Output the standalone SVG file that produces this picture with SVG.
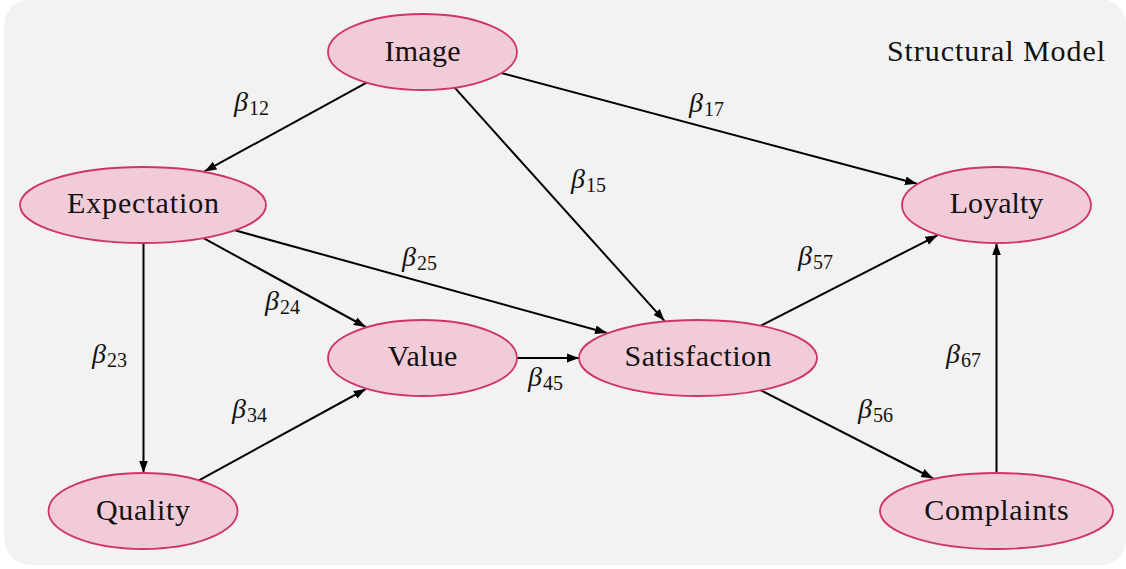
<svg xmlns="http://www.w3.org/2000/svg" width="1126" height="569" viewBox="0 0 1126 569">
<defs>
<marker id="arr" markerUnits="userSpaceOnUse" markerWidth="13" markerHeight="10" refX="12" refY="5" orient="auto" viewBox="0 0 13 10">
<path d="M0,0.6 L12,5 L0,9.4 z" fill="#000"/>
</marker>
</defs>
<style>
.bg{fill:#f2f2f2;}
.node ellipse{fill:#f2cbd8;stroke:#cf3566;stroke-width:1.8;}
.node text,.title{font-family:"Liberation Serif","Times New Roman",serif;font-size:30px;fill:#111;}
.node text{text-anchor:middle;}
.edges line{stroke:#000;stroke-width:2;marker-end:url(#arr);}
.lbl{font-family:"Liberation Serif","Times New Roman",serif;font-style:italic;font-size:28px;fill:#111;}
.lbl tspan{font-style:normal;font-size:20px;}
</style>
<rect class="bg" x="4.3" y="-1" width="1122" height="566" rx="26" ry="26"/>
<text class="title" x="887" y="60.5" textLength="218" lengthAdjust="spacing">Structural Model</text>
<g class="edges" id="connectors">
<line x1="366.6" y1="82.6" x2="204.5" y2="171.4"/>
<line x1="454.7" y1="87.7" x2="664.5" y2="320.8"/>
<line x1="501.3" y1="73.0" x2="917" y2="183.8"/>
<line x1="203.5" y1="238.1" x2="365.8" y2="327"/>
<line x1="234.8" y1="230.3" x2="607" y2="333"/>
<line x1="143.5" y1="243" x2="143.5" y2="472.8"/>
<line x1="198.9" y1="480.4" x2="365.8" y2="389"/>
<line x1="517" y1="358" x2="579" y2="358"/>
<line x1="760.9" y1="325.7" x2="937.5" y2="235.3"/>
<line x1="760.9" y1="390.3" x2="933.2" y2="478.5"/>
<line x1="996.5" y1="473" x2="996.5" y2="243.2"/>
</g>
<g id="labels">
<text class="lbl" x="234" y="111">β<tspan dx="1" dy="4">12</tspan></text>
<text class="lbl" x="689" y="112">β<tspan dx="1" dy="4">17</tspan></text>
<text class="lbl" x="571" y="188">β<tspan dx="1" dy="4">15</tspan></text>
<text class="lbl" x="402" y="266">β<tspan dx="1" dy="4">25</tspan></text>
<text class="lbl" x="798" y="265">β<tspan dx="1" dy="4">57</tspan></text>
<text class="lbl" x="265" y="310">β<tspan dx="1" dy="4">24</tspan></text>
<text class="lbl" x="92" y="363">β<tspan dx="1" dy="4">23</tspan></text>
<text class="lbl" x="232" y="418">β<tspan dx="1" dy="4">34</tspan></text>
<text class="lbl" x="528" y="386">β<tspan dx="1" dy="4">45</tspan></text>
<text class="lbl" x="946" y="363">β<tspan dx="1" dy="4">67</tspan></text>
<text class="lbl" x="858" y="418">β<tspan dx="1" dy="4">56</tspan></text>
</g>
<g class="node" id="image">
<ellipse cx="422.5" cy="52" rx="94.5" ry="38"/>
<text x="422.5" y="60.5" textLength="76" lengthAdjust="spacing">Image</text>
</g>
<g class="node" id="expectation">
<ellipse cx="143" cy="205" rx="123" ry="38"/>
<text x="143" y="213" textLength="152" lengthAdjust="spacing">Expectation</text>
</g>
<g class="node" id="loyalty">
<ellipse cx="996.5" cy="205" rx="94.5" ry="38"/>
<text x="996.5" y="213" textLength="93.5" lengthAdjust="spacing">Loyalty</text>
</g>
<g class="node" id="value">
<ellipse cx="422.5" cy="358" rx="94.5" ry="38"/>
<text x="422.5" y="366" textLength="69.5" lengthAdjust="spacing">Value</text>
</g>
<g class="node" id="satisfaction">
<ellipse cx="698" cy="358" rx="119" ry="38"/>
<text x="698" y="366" textLength="147" lengthAdjust="spacing">Satisfaction</text>
</g>
<g class="node" id="quality">
<ellipse cx="143" cy="511" rx="94.5" ry="38"/>
<text x="143" y="519.5" textLength="94" lengthAdjust="spacing">Quality</text>
</g>
<g class="node" id="complaints">
<ellipse cx="996.5" cy="511" rx="116.5" ry="38"/>
<text x="996.5" y="519.5" textLength="144.5" lengthAdjust="spacing">Complaints</text>
</g>
</svg>
